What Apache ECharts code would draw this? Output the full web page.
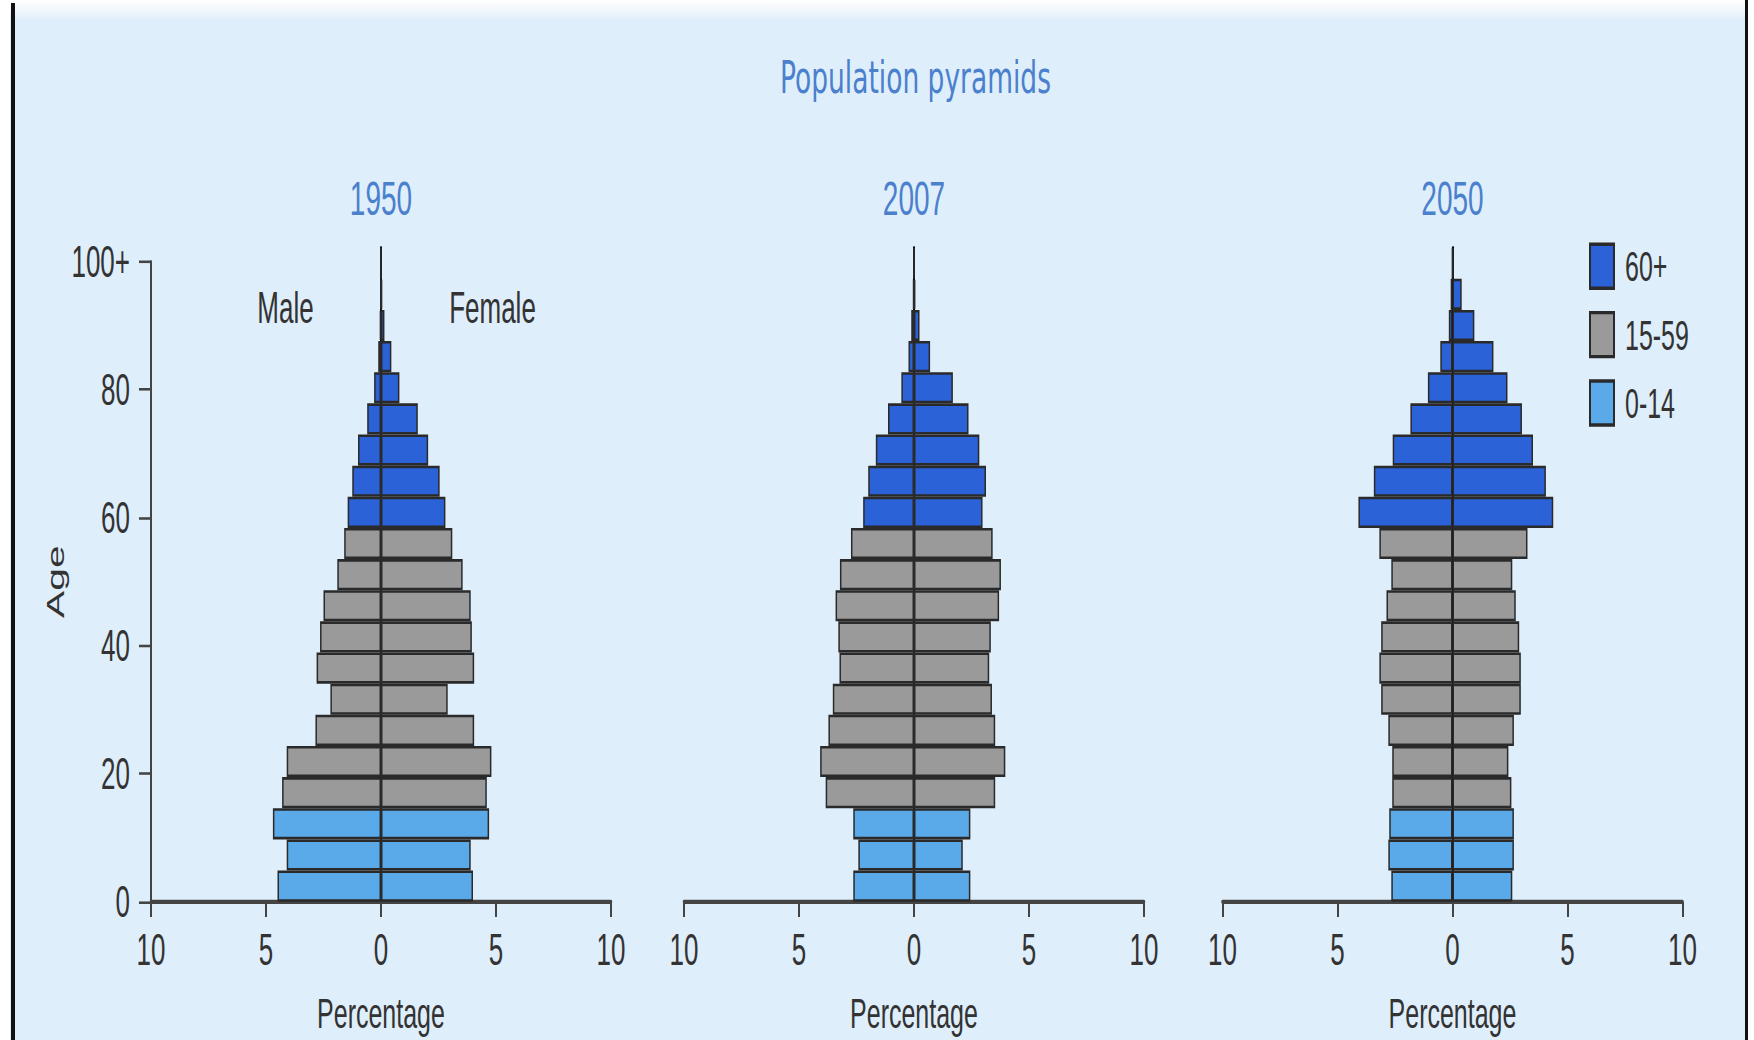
<!DOCTYPE html>
<html>
<head>
<meta charset="utf-8">
<script src="https://cdn.jsdelivr.net/npm/echarts@6/dist/echarts.min.js"></script>
<style>
html{margin:0;padding:0;background:#ffffff;overflow:hidden;}
body{margin:0;padding:0;background:#ffffff;width:1754px;height:1040px;}
#chart{width:1754px;transform-origin:0 0;}
</style>
</head>
<body>
<div id="chart"></div>
<script>
// ---------------- DATA ----------------
const ageBands = ['0-4','5-9','10-14','15-19','20-24','25-29','30-34','35-39','40-44','45-49',
  '50-54','55-59','60-64','65-69','70-74','75-79','80-84','85-89','90-94','95-99','100+'];
const bandGroup = ['0-14','0-14','0-14','15-59','15-59','15-59','15-59','15-59','15-59','15-59',
  '15-59','15-59','60+','60+','60+','60+','60+','60+','60+','60+','60+'];
const broadGroups = ['60+','15-59','0-14'];
const years = ['1950','2007','2050'];

// percentage of population, per 5-year age band
const male1950   = [4.5, 4.1, 4.7, 4.3, 4.1, 2.85, 2.2, 2.8, 2.65, 2.5, 1.9, 1.6, 1.45, 1.25, 1.0, 0.6, 0.3, 0.12, 0.05, 0.02, 0];
const female1950 = [4.0, 3.9, 4.7, 4.6, 4.8, 4.05, 2.9, 4.05, 3.95, 3.9, 3.55, 3.1, 2.8, 2.55, 2.05, 1.6, 0.8, 0.45, 0.15, 0.05, 0];
const male2007   = [2.64, 2.42, 2.64, 3.84, 4.08, 3.72, 3.53, 3.24, 3.29, 3.41, 3.22, 2.74, 2.21, 1.99, 1.66, 1.13, 0.55, 0.24, 0.12, 0.04, 0.01];
const female2007 = [2.45, 2.12, 2.45, 3.53, 3.97, 3.53, 3.39, 3.27, 3.34, 3.7, 3.78, 3.42, 2.98, 3.13, 2.84, 2.37, 1.69, 0.7, 0.24, 0.06, 0.01];
const male2050   = [2.66, 2.79, 2.75, 2.62, 2.62, 2.79, 3.1, 3.18, 3.1, 2.87, 2.66, 3.18, 4.09, 3.42, 2.6, 1.83, 1.07, 0.53, 0.16, 0.08, 0.01];
const female2050 = [2.6, 2.67, 2.67, 2.56, 2.43, 2.67, 2.97, 2.97, 2.9, 2.75, 2.6, 3.26, 4.38, 4.06, 3.5, 3.02, 2.39, 1.78, 0.95, 0.4, 0.05];

const maleByYear = [male1950, male2007, male2050];
const femaleByYear = [female1950, female2007, female2050];

// ---------------- STYLE / LAYOUT ----------------
const S = 1.7; // the reference is stretched vertically
const el = document.getElementById('chart');
el.style.height = (1040 / S) + 'px';
el.style.transform = 'scaleY(' + S + ')';
const u = v => v / S;

const bg = '#dfeefb';
const titleBlue = '#4a80cc';
const textCol = '#333333';
const axisCol = '#444444';
const groupColor = {'60+': '#2b62d8', '15-59': '#9a9a9a', '0-14': '#5aaaea'};
const font = 'Liberation Sans, Arial, sans-serif';

const panelLeft = [151, 684, 1222.5];
const panelWidth = 460;
const barTop = 247.6, barBottom = 901.7;

const grids = [], xAxes = [], yAxes = [], series = [];
years.forEach((yr, p) => {
  grids.push({left: panelLeft[p], width: panelWidth, top: u(barTop), height: u(barBottom - barTop),
    containLabel: false, outerBoundsMode: 'none'});
  xAxes.push({
    type: 'value', gridIndex: p, min: -10, max: 10, interval: 5,
    axisLine: {show: true, onZero: false, lineStyle: {color: axisCol, width: 2.5}},
    axisTick: {show: true, length: 9, lineStyle: {color: axisCol, width: 2}},
    axisLabel: {formatter: v => String(Math.abs(v)), fontSize: 26, margin: 15, color: textCol, fontFamily: font},
    splitLine: {show: false},
    name: 'Percentage', nameLocation: 'middle', nameGap: 53,
    nameTextStyle: {fontSize: 25, color: textCol, fontFamily: font}
  });
  yAxes.push({
    type: 'category', gridIndex: p, data: ageBands,
    axisLine: {show: true, onZero: true, lineStyle: {color: '#000000', width: 2}},
    axisTick: {show: false}, axisLabel: {show: false}, splitLine: {show: false}
  });
  const sexes = [['m', maleByYear[p]], ['f', femaleByYear[p]]];
  broadGroups.forEach(g => {
    sexes.forEach(([sx, arr]) => {
      series.push({
        type: 'bar', name: g, xAxisIndex: p, yAxisIndex: p, stack: 'pyr' + p,
        barCategoryGap: '0%',
        itemStyle: {color: groupColor[g], borderColor: '#2a2a2a', borderWidth: 1.5},
        data: arr.map((v, i) => bandGroup[i] === g ? (sx === 'm' ? -v : v) : '-')
      });
    });
  });
});

// age scale on the left of the first pyramid
grids.push({left: panelLeft[0], width: panelWidth, top: u(261.7), height: u(640),
  containLabel: false, outerBoundsMode: 'none'});
xAxes.push({type: 'value', gridIndex: 3, min: -10, max: 10, show: false});
yAxes.push({
  type: 'value', gridIndex: 3, min: 0, max: 100, interval: 20, position: 'left',
  axisLine: {show: true, onZero: false, lineStyle: {color: axisCol, width: 2}},
  axisTick: {show: true, length: 12, lineStyle: {color: axisCol, width: 1.5}},
  axisLabel: {formatter: v => v === 100 ? '100+' : String(v), fontSize: 26, margin: 21, color: textCol, fontFamily: font},
  splitLine: {show: false},
  name: 'Age', nameLocation: 'middle', nameRotate: 90, nameGap: 68,
  nameTextStyle: {fontSize: 24, color: textCol, fontFamily: font}
});

const panelCenter = panelLeft.map(l => l + panelWidth / 2);
const titles = [{
  text: 'Population pyramids', left: 915.5, top: u(77) - 13, textAlign: 'center', padding: 0,
  textStyle: {fontFamily: 'DejaVu Sans', fontSize: 26.5, fontWeight: 'normal', color: titleBlue}
}];
years.forEach((yr, p) => titles.push({
  text: yr, left: panelCenter[p], top: u(199) - 14, textAlign: 'center', padding: 0,
  textStyle: {fontFamily: font, fontSize: 28, fontWeight: 'normal', color: titleBlue}
}));
titles.push({text: 'Male', left: 285.5, top: u(308) - 13, textAlign: 'center', padding: 0,
  textStyle: {fontFamily: font, fontSize: 26, fontWeight: 'normal', color: textCol}});
titles.push({text: 'Female', left: 492.5, top: u(308) - 13, textAlign: 'center', padding: 0,
  textStyle: {fontFamily: font, fontSize: 26, fontWeight: 'normal', color: textCol}});

const H = 1040 / S;
const option = {
  animation: false,
  backgroundColor: bg,
  textStyle: {fontFamily: font},
  title: titles,
  legend: {
    orient: 'vertical', left: 1584, top: u(234), itemWidth: 24, itemHeight: u(44), itemGap: u(21),
    data: broadGroups, icon: 'rect',
    textStyle: {fontSize: 25, color: textCol, fontFamily: font, padding: [0, 0, 0, 6]}
  },
  grid: grids, xAxis: xAxes, yAxis: yAxes, series: series,
  graphic: [
    {type: 'rect', left: 0, top: 0, shape: {width: 1754, height: u(20)}, silent: true, z: 100,
     style: {fill: {type: 'linear', x: 0, y: 0, x2: 0, y2: 1,
       colorStops: [{offset: 0, color: '#ffffff'}, {offset: 0.5, color: '#f2f7fc'}, {offset: 1, color: bg}]}}},
    {type: 'rect', left: 0, top: 0, shape: {width: 10, height: H}, silent: true, z: 100, style: {fill: '#ffffff'}},
    {type: 'rect', left: 1748, top: 0, shape: {width: 6, height: H}, silent: true, z: 100, style: {fill: '#ffffff'}},
    {type: 'rect', left: 11, top: u(3), shape: {width: 4, height: H}, silent: true, z: 101, style: {fill: '#111111'}},
    {type: 'rect', left: 1745, top: 0, shape: {width: 3, height: H}, silent: true, z: 101, style: {fill: '#111111'}}
  ]
};

const chart = echarts.init(el, null, {renderer: 'svg'});
chart.setOption(option);
</script>
</body>
</html>
